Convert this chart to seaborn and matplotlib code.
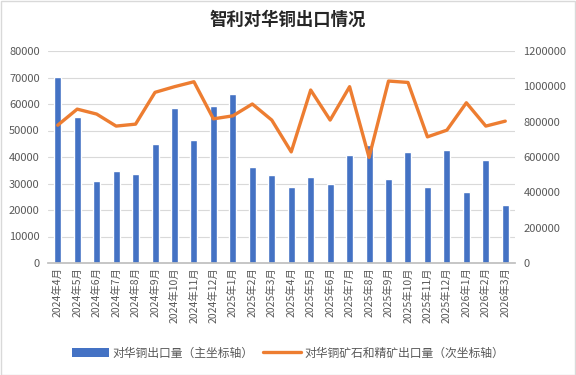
import matplotlib
matplotlib.use("Agg")
import matplotlib.pyplot as plt
from matplotlib.patches import Rectangle
from matplotlib.lines import Line2D
from matplotlib.patches import Patch
import seaborn as sns
import numpy as np
import pandas as pd

months = ["2024年4月", "2024年5月", "2024年6月", "2024年7月", "2024年8月", "2024年9月",
          "2024年10月", "2024年11月", "2024年12月", "2025年1月", "2025年2月", "2025年3月",
          "2025年4月", "2025年5月", "2025年6月", "2025年7月", "2025年8月", "2025年9月",
          "2025年10月", "2025年11月", "2025年12月", "2026年1月", "2026年2月", "2026年3月"]
copper = [70300, 55200, 31000, 34800, 33600, 44900, 58500, 46500, 59300, 63900, 36300, 33200,
          28800, 32500, 29800, 40700, 44500, 31700, 41900, 28700, 42700, 26800, 38900, 21900]
ore = [780000, 871000, 843000, 775000, 786000, 966000, 998000, 1026000, 816000, 833000, 900000, 809000,
       629000, 979000, 809000, 998000, 598000, 1030000, 1022000, 714000, 752000, 907000, 775000, 803000]

bar_label = "对华铜出口量（主坐标轴）"
line_label = "对华铜矿石和精矿出口量（次坐标轴）"
title = "智利对华铜出口情况"

sns.set_theme(style="white")
plt.rcParams["font.family"] = ["Noto Sans CJK SC", "DejaVu Sans"]

df = pd.DataFrame({"month": months, "copper": copper, "ore": ore})

fig = plt.figure(figsize=(5.76, 3.75), dpi=100)
ax = fig.add_axes([48/576, 1-263/375, (515-48)/576, (263-51)/375])
grey = "#595959"

sns.barplot(data=df, x="month", y="copper", color="#4472C4", width=0.36,
            saturation=1, ax=ax, zorder=2)
ax.set_ylim(0, 80000)
ax.set_yticks(np.arange(0, 80001, 10000))
ax.yaxis.grid(True, color="#D9D9D9", linewidth=0.8, zorder=0)
ax.set_axisbelow(True)
ax.set_xlabel("")
ax.set_ylabel("")
ax.set_xlim(-0.5, len(months) - 0.5)
ax.tick_params(axis="y", labelsize=8, labelcolor=grey, length=0, pad=6)
ax.tick_params(axis="x", labelsize=7.5, labelcolor=grey, rotation=90, length=0, pad=3)
for s in ["top", "right", "left"]:
    ax.spines[s].set_visible(False)
ax.spines["bottom"].set_color("#BFBFBF")
ax.set_xticks(np.arange(-0.5, len(months), 1), minor=True)
ax.tick_params(axis="x", which="minor", length=4, color="#BFBFBF", direction="out")

ax2 = ax.twinx()
sns.lineplot(x=np.arange(len(months)), y=df["ore"], color="#ED7D31", linewidth=2.4,
             ax=ax2, sort=False)
ax2.set_ylim(0, 1200000)
ax2.set_yticks(np.arange(0, 1200001, 200000))
ax2.set_ylabel("")
ax2.tick_params(axis="y", labelsize=8, labelcolor=grey, length=0, pad=6)
for s in ["top", "right", "left", "bottom"]:
    ax2.spines[s].set_visible(False)
ax2.ticklabel_format(axis="y", style="plain")

fig.text(0.5, 1-20/375, title, ha="center", va="center", fontsize=12.5,
         fontweight="bold", color="#262626")

handles = [Patch(facecolor="#4472C4", edgecolor="none"),
           Line2D([0], [0], color="#ED7D31", linewidth=2.4)]
fig.legend(handles, [bar_label, line_label], loc="center", bbox_to_anchor=(0.5, 1-353/375),
           ncol=2, frameon=False, fontsize=8.5, labelcolor=grey, handlelength=3.2,
           handletextpad=0.3, columnspacing=0.8)

fig.add_artist(Rectangle((0.001, 0.001), 0.997, 0.997, transform=fig.transFigure,
                         fill=False, edgecolor="#D9D9D9", linewidth=1))

fig.savefig("out.png", dpi=100)
